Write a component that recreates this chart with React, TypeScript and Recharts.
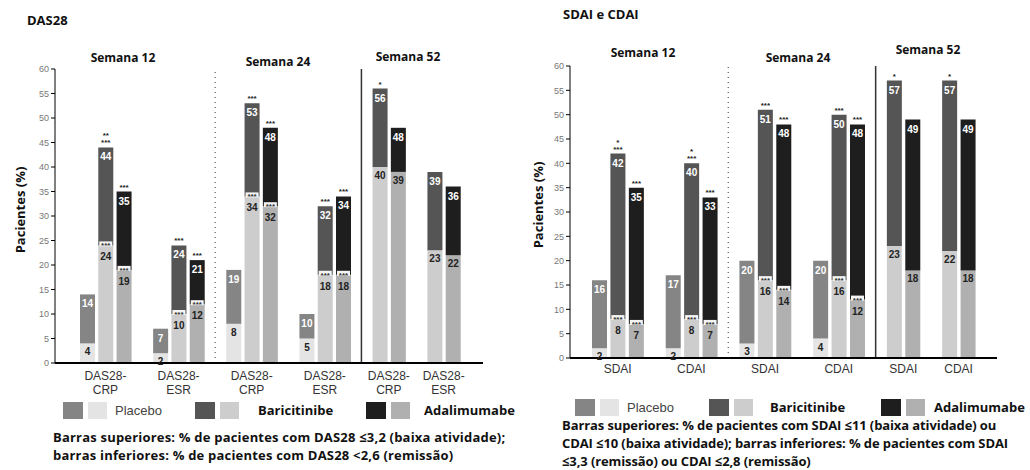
import React from "react";
import { BarChart, Bar, XAxis, YAxis, Cell, LabelList, ReferenceLine } from "recharts";

// DAS28 panel: one value per category, weeks 12, 24 and 52
const dasCategories = ["DAS28-CRP", "DAS28-ESR", "DAS28-CRP", "DAS28-ESR", "DAS28-CRP", "DAS28-ESR"];
const dasWeeks = ["Semana 12", "Semana 12", "Semana 24", "Semana 24", "Semana 52", "Semana 52"];
const dasPlaceboLow = [14, 7, 19, 10, null, null];
const dasPlaceboRem = [4, 2, 8, 5, null, null];
const dasBariLow = [44, 24, 53, 32, 56, 39];
const dasBariRem = [24, 10, 34, 18, 40, 23];
const dasAdaLow = [35, 21, 48, 34, 48, 36];
const dasAdaRem = [19, 12, 32, 18, 39, 22];
const dasBariSig = ["**\n***", "***", "***", "***", "*", ""];
const dasAdaSig = ["***", "***", "***", "***", "", ""];
const dasBariRemSig = ["***", "***", "***", "***", "", ""];
const dasAdaRemSig = ["***", "***", "***", "***", "", ""];

// SDAI / CDAI panel
const sdaiCategories = ["SDAI", "CDAI", "SDAI", "CDAI", "SDAI", "CDAI"];
const sdaiWeeks = ["Semana 12", "Semana 12", "Semana 24", "Semana 24", "Semana 52", "Semana 52"];
const sdaiPlaceboLow = [16, 17, 20, 20, null, null];
const sdaiPlaceboRem = [2, 2, 3, 4, null, null];
const sdaiBariLow = [42, 40, 51, 50, 57, 57];
const sdaiBariRem = [8, 8, 16, 16, 23, 22];
const sdaiAdaLow = [35, 33, 48, 48, 49, 49];
const sdaiAdaRem = [7, 7, 14, 12, 18, 18];
const sdaiBariSig = ["*\n***", "*\n***", "***", "***", "*", "*"];
const sdaiAdaSig = ["***", "***", "***", "***", "", ""];
const sdaiBariRemSig = ["***", "***", "***", "***", "", ""];
const sdaiAdaRemSig = ["***", "***", "***", "***", "", ""];

const yTicks = [0, 5, 10, 15, 20, 25, 30, 35, 40, 45, 50, 55, 60];

const COLORS = {
  placebo: { dark: "#858585", light: "#e4e4e4" },
  bari: { dark: "#555555", light: "#cdcdcd" },
  ada: { dark: "#1e1e1e", light: "#b0b0b0" },
  gap: { dark: "transparent", light: "transparent" },
};

type Arm = "placebo" | "bari" | "ada" | "gap";
type Row = {
  key: string;
  arm: Arm;
  low: number | null;
  rem: number | null;
  upper: number | null;
  sig: string;
  remSig: string;
  tick: string;
  shift: boolean;
  sep?: "dotted" | "solid";
};

type PanelData = {
  categories: string[];
  weeks: string[];
  placeboLow: (number | null)[];
  placeboRem: (number | null)[];
  bariLow: number[];
  bariRem: number[];
  adaLow: number[];
  adaRem: number[];
  bariSig: string[];
  adaSig: string[];
  bariRemSig: string[];
  adaRemSig: string[];
};

// one row per bar slot, with an empty slot between categories
function buildRows(d: PanelData): Row[] {
  const rows: Row[] = [];
  d.categories.forEach((cat, i) => {
    const hasPlacebo = d.placeboLow[i] != null;
    const bar = (arm: Arm, low: number | null, rem: number | null, sig = "", remSig = ""): Row => ({
      key: `${i}-${arm}`,
      arm,
      low,
      rem,
      upper: low != null && rem != null ? low - rem : null,
      sig,
      remSig,
      tick: "",
      shift: false,
    });
    if (hasPlacebo) rows.push(bar("placebo", d.placeboLow[i], d.placeboRem[i]));
    const b = bar("bari", d.bariLow[i], d.bariRem[i], d.bariSig[i], d.bariRemSig[i]);
    b.tick = cat;
    b.shift = !hasPlacebo;
    rows.push(b);
    rows.push(bar("ada", d.adaLow[i], d.adaRem[i], d.adaSig[i], d.adaRemSig[i]));
    if (i < d.categories.length - 1) {
      const g = bar("gap", null, null);
      g.key = `gap-${i}`;
      if (d.weeks[i] !== d.weeks[i + 1]) g.sep = d.weeks[i + 1] === "Semana 52" ? "solid" : "dotted";
      rows.push(g);
    }
  });
  return rows;
}

const dasRows = buildRows({
  categories: dasCategories, weeks: dasWeeks,
  placeboLow: dasPlaceboLow, placeboRem: dasPlaceboRem,
  bariLow: dasBariLow, bariRem: dasBariRem, adaLow: dasAdaLow, adaRem: dasAdaRem,
  bariSig: dasBariSig, adaSig: dasAdaSig, bariRemSig: dasBariRemSig, adaRemSig: dasAdaRemSig,
});

const sdaiRows = buildRows({
  categories: sdaiCategories, weeks: sdaiWeeks,
  placeboLow: sdaiPlaceboLow, placeboRem: sdaiPlaceboRem,
  bariLow: sdaiBariLow, bariRem: sdaiBariRem, adaLow: sdaiAdaLow, adaRem: sdaiAdaRem,
  bariSig: sdaiBariSig, adaSig: sdaiAdaSig, bariRemSig: sdaiBariRemSig, adaRemSig: sdaiAdaRemSig,
});

const LABEL_FONT = "'Liberation Sans', Arial, sans-serif";
const TEXT_FONT = "'Open Sans', 'Noto Sans', sans-serif";

function box(props: any) {
  const vb = props.viewBox && props.viewBox.width != null ? props.viewBox : props;
  return { x: Number(vb.x), y: Number(vb.y), w: Number(vb.width), h: Number(vb.height) };
}

// labels look their row up by key, since bars without a value are skipped
const findRow = (rows: Row[], key: any) => rows.find((r) => r.key === key);

const upperLabel = (rows: Row[]) => (props: any) => {
  const r = findRow(rows, props.value);
  if (!r || r.low == null) return null;
  const { x, y, w } = box(props);
  const cx = x + w / 2;
  const lines = r.sig ? r.sig.split("\n") : [];
  return (
    <g>
      <text x={cx} y={y + 13} textAnchor="middle" fontSize={10} fontWeight="bold" fill="#fff" fontFamily={LABEL_FONT}>
        {r.low}
      </text>
      {lines.map((l, k) => (
        <text key={k} x={cx} y={y - 2 - (lines.length - 1 - k) * 7} textAnchor="middle" fontSize={8} fontWeight="bold" fill="#222" fontFamily={LABEL_FONT}>
          {l}
        </text>
      ))}
    </g>
  );
};

const remLabel = (rows: Row[]) => (props: any) => {
  const r = findRow(rows, props.value);
  if (!r || r.rem == null) return null;
  const { x, y, w } = box(props);
  const cx = x + w / 2;
  return (
    <g>
      {r.remSig ? (
        <g>
          <rect x={x + 1} y={y - 4} width={w - 2} height={5} fill="#f4f4f4" />
          <text x={cx} y={y + 3} textAnchor="middle" fontSize={8} fontWeight="bold" fill="#333" fontFamily={LABEL_FONT}>
            {r.remSig}
          </text>
        </g>
      ) : null}
      <text x={cx} y={y + (r.remSig ? 15 : 12)} textAnchor="middle" fontSize={10} fontWeight="bold" fill="#222" fontFamily={LABEL_FONT}>
        {r.rem}
      </text>
    </g>
  );
};

type PanelProps = {
  rows: Row[];
  margin: { top: number; right: number; bottom: number; left: number };
  padding: { left: number; right: number };
  tickDy: number;
};

const CHART_W = 500;
const CHART_H = 400;
const Y_W = 40;

function Panel({ rows, margin, padding, tickDy }: PanelProps) {
  const plotW = CHART_W - margin.left - margin.right - Y_W;
  const band = (plotW - padding.left - padding.right) / rows.length;

  const renderTick = (props: any) => {
    const { x, y, payload } = props;
    const r = findRow(rows, payload.value);
    if (!r || !r.tick) return null;
    const cx = x + (r.shift ? band / 2 : 0);
    const parts = r.tick.includes("-") ? [r.tick.split("-")[0] + "-", r.tick.split("-")[1]] : [r.tick];
    return (
      <g>
        {parts.map((p, k) => (
          <text key={k} x={cx} y={y + tickDy + k * 14} textAnchor="middle" fontSize={12} fill="#333" fontFamily={LABEL_FONT}>
            {p}
          </text>
        ))}
      </g>
    );
  };

  return (
    <BarChart width={CHART_W} height={CHART_H} data={rows} margin={margin} barSize={15}>
      <XAxis
        dataKey="key"
        interval={0}
        tickLine={false}
        axisLine={{ stroke: "#000", strokeWidth: 2 }}
        padding={padding}
        height={30}
        tick={renderTick}
      />
      <YAxis
        width={Y_W}
        domain={[0, 60]}
        ticks={yTicks}
        interval={0}
        tickSize={4}
        axisLine={{ stroke: "#000" }}
        tickLine={{ stroke: "#000" }}
        tick={{ fontSize: 9, fill: "#777", fontFamily: LABEL_FONT }}
      />
      {rows
        .filter((r) => r.sep)
        .map((r) => (
          <ReferenceLine
            key={r.key}
            x={r.key}
            stroke="#333"
            strokeWidth={r.sep === "solid" ? 1.5 : 1}
            strokeDasharray={r.sep === "solid" ? undefined : "1 4"}
          />
        ))}
      <Bar dataKey="rem" stackId="s" isAnimationActive={false}>
        {rows.map((r) => (
          <Cell key={r.key} fill={COLORS[r.arm].light} />
        ))}
        <LabelList dataKey="key" content={remLabel(rows)} />
      </Bar>
      <Bar dataKey="upper" stackId="s" isAnimationActive={false}>
        {rows.map((r) => (
          <Cell key={r.key} fill={COLORS[r.arm].dark} />
        ))}
        <LabelList dataKey="key" content={upperLabel(rows)} />
      </Bar>
    </BarChart>
  );
}

const abs = (left: number, top: number, extra: React.CSSProperties = {}): React.CSSProperties => ({
  position: "absolute",
  left,
  top,
  whiteSpace: "nowrap",
  fontFamily: TEXT_FONT,
  color: "#111",
  ...extra,
});

function Heading({ x, y, children, size = 12 }: { x: number; y: number; children: React.ReactNode; size?: number }) {
  return (
    <div style={abs(x, y, { fontSize: size, fontWeight: 700, transform: "translate(-50%, -50%)" })}>{children}</div>
  );
}

function YLabel({ x, y }: { x: number; y: number }) {
  return (
    <div style={abs(x, y, { fontSize: 13, fontWeight: 700, transform: "translate(-50%, -50%) rotate(-90deg)" })}>
      Pacientes (%)
    </div>
  );
}

function LegendRow({ y, items }: { y: number; items: { arm: Arm; label: string; x: number; textX: number; bold: boolean }[] }) {
  return (
    <>
      {items.map((it) => (
        <React.Fragment key={it.arm}>
          <div style={abs(it.x, y - 8, { width: 20, height: 17, background: COLORS[it.arm].dark })} />
          <div style={abs(it.x + 25, y - 8, { width: 19, height: 17, background: COLORS[it.arm].light })} />
          <div
            style={abs(it.textX, y, {
              fontSize: 13,
              fontWeight: it.bold ? 700 : 400,
              color: it.bold ? "#111" : "#444",
              fontFamily: it.bold ? TEXT_FONT : LABEL_FONT,
              transform: "translateY(-50%)",
            })}
          >
            {it.label}
          </div>
        </React.Fragment>
      ))}
    </>
  );
}

export default function App() {
  return (
    <div style={{ position: "absolute", left: 0, top: 0, width: 1030, height: 470, background: "#fff", overflow: "hidden" }}>
      <div style={abs(27, 11, { fontSize: 13, fontWeight: 700 })}>DAS28</div>
      <div style={abs(563, 5, { fontSize: 13, fontWeight: 700 })}>SDAI e CDAI</div>

      <div style={{ position: "absolute", left: 0, top: 0 }}>
        <Panel rows={dasRows} margin={{ top: 69, right: 17, bottom: 7, left: 15 }} padding={{ left: 23, right: 21 }} tickDy={9} />
      </div>
      <div style={{ position: "absolute", left: 520, top: 0 }}>
        <Panel rows={sdaiRows} margin={{ top: 66, right: 23, bottom: 12, left: 10 }} padding={{ left: 20, right: 20 }} tickDy={7} />
      </div>

      <Heading x={123} y={57}>Semana 12</Heading>
      <Heading x={278} y={61}>Semana 24</Heading>
      <Heading x={408} y={56}>Semana 52</Heading>
      <Heading x={643} y={52}>Semana 12</Heading>
      <Heading x={798} y={57}>Semana 24</Heading>
      <Heading x={928} y={49}>Semana 52</Heading>

      <YLabel x={20} y={210} />
      <YLabel x={538} y={205} />

      <LegendRow
        y={410}
        items={[
          { arm: "placebo", label: "Placebo", x: 63, textX: 115, bold: false },
          { arm: "bari", label: "Baricitinibe", x: 195, textX: 258, bold: true },
          { arm: "ada", label: "Adalimumabe", x: 366, textX: 424, bold: true },
        ]}
      />
      <LegendRow
        y={407}
        items={[
          { arm: "placebo", label: "Placebo", x: 575, textX: 627, bold: false },
          { arm: "bari", label: "Baricitinibe", x: 709, textX: 770, bold: true },
          { arm: "ada", label: "Adalimumabe", x: 881, textX: 934, bold: true },
        ]}
      />

      <div style={abs(53, 428, { fontSize: 13, fontWeight: 700, lineHeight: "18px", letterSpacing: 0.2 })}>
        Barras superiores: % de pacientes com DAS28 ≤3,2 (baixa atividade);
        <br />
        barras inferiores: % de pacientes com DAS28 &lt;2,6 (remissão)
      </div>
      <div style={abs(562, 416, { fontSize: 13, fontWeight: 700, lineHeight: "18px", letterSpacing: -0.1 })}>
        Barras superiores: % de pacientes com SDAI ≤11 (baixa atividade) ou
        <br />
        CDAI ≤10 (baixa atividade); barras inferiores: % de pacientes com SDAI
        <br />
        ≤3,3 (remissão) ou CDAI ≤2,8 (remissão)
      </div>
    </div>
  );
}
